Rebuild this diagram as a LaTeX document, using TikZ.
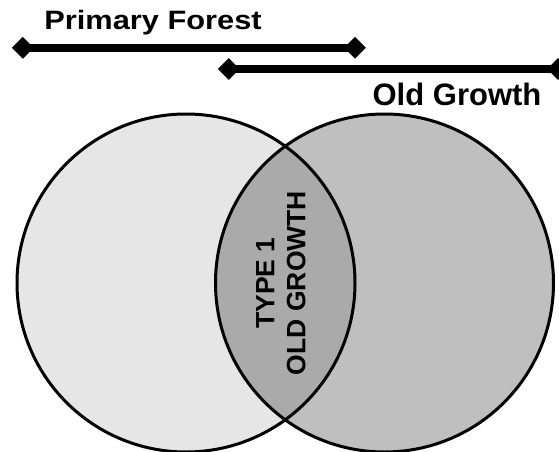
\documentclass[tikz,border=0pt]{standalone}
\usepackage{fontspec}
\usepackage{graphicx}
\setmainfont{Liberation Sans}
\usetikzlibrary{shapes.geometric}
\definecolor{leftgrey}{HTML}{E6E6E6}
\definecolor{rightgrey}{HTML}{BFBFBF}
\definecolor{lensgrey}{HTML}{AAAAAA}
\tikzset{
  endmark/.style={diamond, fill=black, inner sep=0pt, minimum width=22pt, minimum height=22pt},
  barline/.style={line width=8pt},
  ring/.style={line width=3pt, draw=black},
  title/.style={font=\bfseries\fontsize{28}{30}\selectfont, inner sep=0pt},
}
\begin{document}
\begin{tikzpicture}[x=1pt,y=-1pt]
\useasboundingbox (0,0) rectangle (559,452);
% circles
\fill[leftgrey] (186,283) circle (169);
\fill[rightgrey] (384.5,283) circle (169);
\begin{scope}
  \clip (186,283) circle (169);
  \fill[lensgrey] (384.5,283) circle (169);
\end{scope}
\node (pf) [circle, ring, inner sep=0pt, minimum size=338pt] at (186,283) {};
\node (og) [circle, ring, inner sep=0pt, minimum size=338pt] at (384.5,283) {};
% lens text
\node (lens) [rotate=90, align=center, inner sep=0pt,
  font=\bfseries\fontsize{26.5}{31}\selectfont] at (281,283) {TYPE 1\\OLD GROWTH};
% bars
\node (pfL) [endmark] at (22.8,47.8) {};
\node (pfR) [endmark] at (355,47.8) {};
\draw[barline] (pfL.center) -- (pfR.center);
\node (ogL) [endmark] at (228.7,69) {};
\node (ogR) [endmark] at (558,69) {};
\draw[barline] (ogL.center) -- (ogR.center);
% labels
\node (pft) [title, anchor=base] at (153,29.6) {\scalebox{1.1}[0.95]{Primary Forest}};
\node (ogt) [title, font=\bfseries\fontsize{31}{33}\selectfont, anchor=base] at (457,105) {Old Growth};
\end{tikzpicture}
\end{document}
